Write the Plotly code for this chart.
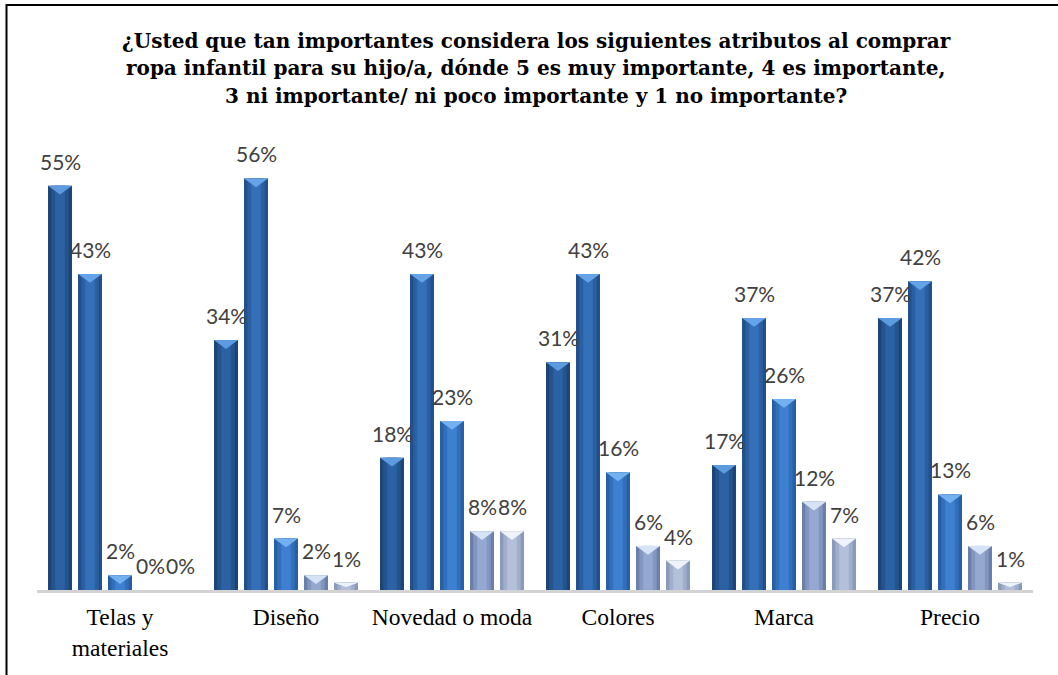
import plotly.graph_objects as go

# Survey results: share of respondents per rating, for each attribute
categories = ["Telas y<br>materiales", "Diseño", "Novedad o moda", "Colores", "Marca", "Precio"]
ratings = ["5", "4", "3", "2", "1"]
rating_5 = [55, 34, 18, 31, 17, 37]
rating_4 = [43, 56, 43, 43, 37, 42]
rating_3 = [2, 7, 23, 16, 26, 13]
rating_2 = [0, 2, 8, 6, 12, 6]
rating_1 = [0, 1, 8, 4, 7, 1]
series_values = [rating_5, rating_4, rating_3, rating_2, rating_1]

title_lines = [
    "¿Usted que tan importantes considera los siguientes atributos al comprar",
    "ropa infantil para su hijo/a, dónde 5 es muy importante, 4 es importante,",
    "3 ni importante/ ni poco importante y 1 no importante?",
]

# Bevel-style shading: edge, mid, centre colours and top highlight per series
shades = [
    ("#1d4578", "#24548e", "#2c62a3", "#5d9be0"),
    ("#21508a", "#2a5fa2", "#3470b8", "#64a3e8"),
    ("#2760a4", "#316fbb", "#3c80cf", "#72b0f0"),
    ("#6a80aa", "#8296c0", "#95a9d0", "#d6e3f6"),
    ("#8a9abb", "#a0aecb", "#b4c0da", "#eef2fa"),
]

pitch = 30 / 166      # distance between neighbouring bars in a group
bar_w = 24 / 166      # bar width in category units
cap_h = 1.2           # height of the top highlight, in percentage points

fig = go.Figure()

for j, (name, vals) in enumerate(zip(ratings, series_values)):
    edge, mid, centre, hi = shades[j]
    xs = [i + (j - 2) * pitch for i in range(len(categories))]
    for frac, col in ((1.0, edge), (0.72, mid), (0.4, centre)):
        fig.add_trace(go.Bar(
            x=xs, y=vals, width=bar_w * frac, name=name,
            marker=dict(color=col, line=dict(width=0)),
            showlegend=False, hoverinfo="skip" if frac < 1 else None,
        ))
    # downward-pointing highlight at the top of every bar
    tx, ty = [], []
    for x, v in zip(xs, vals):
        if v <= 0:
            continue
        d = min(cap_h, v * 0.6)
        tx += [x - bar_w / 2, x + bar_w / 2, x, x - bar_w / 2, None]
        ty += [v, v, v - d, v, None]
    fig.add_trace(go.Scatter(
        x=tx, y=ty, mode="lines", fill="toself", fillcolor=hi,
        line=dict(width=0, color=hi), showlegend=False, hoverinfo="skip",
    ))
    for x, v in zip(xs, vals):
        fig.add_annotation(
            x=x, y=v, text=f"{v}%", showarrow=False, yanchor="bottom",
            yshift=10, font=dict(family="Lato", size=21, color="#404040"),
        )

# pixel helpers for placing items outside the plot area
L, W, T, H = 37, 996, 149, 441
def px_x(p):
    return (p - L) / W
def px_y(p):
    return (T + H - p) / H

# three-line bold heading, one annotation per line for tight spacing
for k, line in enumerate(title_lines):
    fig.add_annotation(
        xref="paper", yref="paper", x=px_x(536), y=px_y(41 + 27.5 * k),
        text=f"<b>{line}</b>", showarrow=False, xanchor="center", yanchor="middle",
        font=dict(family="DejaVu Serif", size=20, color="black"),
    )

# frame along the left and top edges of the image
fig.add_shape(type="rect", xref="paper", yref="paper",
              x0=px_x(6.5), x1=px_x(1075), y0=px_y(5), y1=px_y(690),
              line=dict(color="black", width=2), fillcolor="rgba(0,0,0,0)",
              layer="above")

fig.update_layout(
    width=1058, height=675,
    margin=dict(l=L, r=1058 - L - W, t=T, b=675 - T - H),
    barmode="overlay",
    plot_bgcolor="white", paper_bgcolor="white",
    xaxis=dict(
        range=[-0.5, len(categories) - 0.5],
        tickmode="array", tickvals=list(range(len(categories))), ticktext=categories,
        tickfont=dict(family="Liberation Serif", size=23.5, color="black"),
        ticks="", ticklabelstandoff=4,
        showline=True, linecolor="#d3d3d3", linewidth=3,
        showgrid=False, zeroline=False, fixedrange=True,
    ),
    yaxis=dict(range=[0, 60], visible=False, showgrid=False, zeroline=False),
    showlegend=False,
)

fig.write_html("out.html")
